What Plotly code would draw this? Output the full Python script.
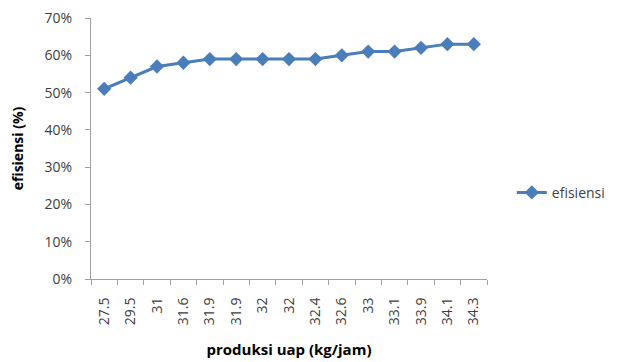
import plotly.graph_objects as go

categories = ["27.5", "29.5", "31", "31.6", "31.9", "31.9", "32", "32", "32.4", "32.6", "33", "33.1", "33.9", "34.1", "34.3"]
efisiensi = [0.51, 0.54, 0.57, 0.58, 0.59, 0.59, 0.59, 0.59, 0.59, 0.60, 0.61, 0.61, 0.62, 0.63, 0.63]
y_ticks = [0, 0.1, 0.2, 0.3, 0.4, 0.5, 0.6, 0.7]

idx = list(range(len(categories)))

fig = go.Figure()
fig.add_trace(go.Scatter(
    x=idx, y=efisiensi, mode="lines+markers", name="efisiensi",
    line=dict(color="#4A7EBB", width=3),
    marker=dict(symbol="diamond", size=11, color="#4A7EBB"),
))

# page body has an 8px margin, so the figure is sized to fit the 619x362 window
fig.update_layout(
    width=611, height=354,
    margin=dict(l=83, r=131, t=10, b=83),
    paper_bgcolor="white", plot_bgcolor="white",
    font=dict(family="Open Sans, Liberation Sans, sans-serif", size=14, color="#404040"),
    showlegend=True,
    legend=dict(x=1.06, xanchor="left", y=0.33, yanchor="middle",
                font=dict(size=14, color="#404040"), bgcolor="rgba(0,0,0,0)"),
    xaxis=dict(
        range=[-0.5, len(categories) - 0.5], automargin=False,
        tickmode="array", tickvals=idx, ticktext=categories,
        tickangle=-90, ticks="", showgrid=False, zeroline=False,
        ticklabelstandoff=12,
        showline=True, linecolor="#A0A0A0", linewidth=1,
        minor=dict(tickmode="array", tickvals=[i - 0.5 for i in range(len(categories) + 1)],
                   ticks="outside", ticklen=5, tickcolor="#A0A0A0", showgrid=False),
        title=dict(text="<b>produksi uap (kg/jam)</b>", font=dict(size=15, color="#000000"), standoff=20),
    ),
    yaxis=dict(
        range=[0, 0.7001], automargin=False,
        tickmode="array", tickvals=y_ticks, tickformat=".0%",
        ticks="outside", ticklen=5, tickcolor="#A0A0A0",
        ticklabelstandoff=10, ticklabeloverflow="allow",
        showgrid=False, zeroline=False,
        showline=True, linecolor="#A0A0A0", linewidth=1,
        title=dict(text="<b>efisiensi (%)</b>", font=dict(size=14, color="#000000"), standoff=20),
    ),
)

fig.write_html("out.html")
